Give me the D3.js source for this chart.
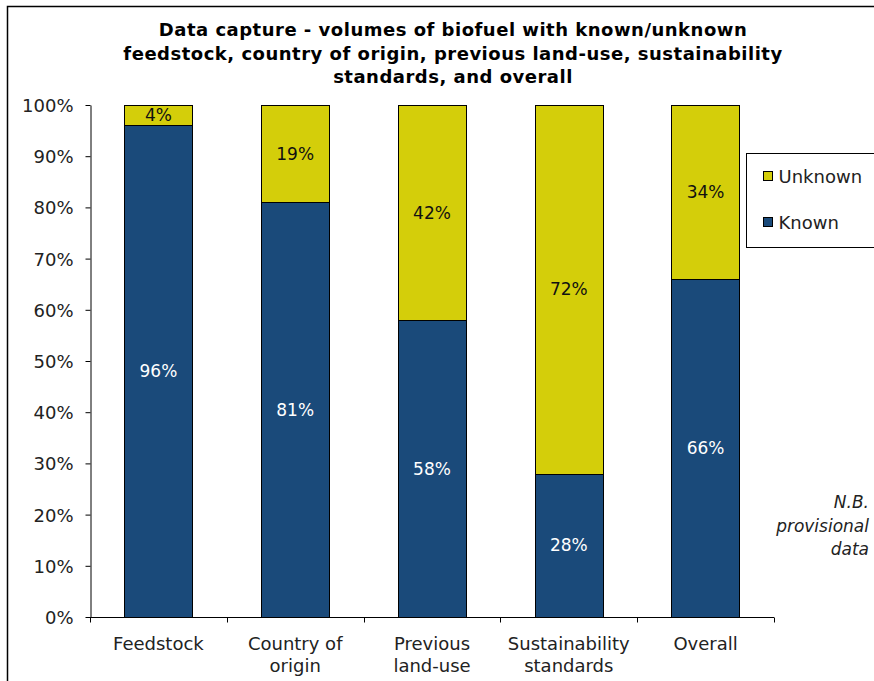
<!DOCTYPE html>
<html>
<head>
<meta charset="UTF-8">
<title>Data capture - biofuel</title>
<style>
  body { margin: 0; background: #fff; }
  svg text { font-family: "DejaVu Sans", Verdana, sans-serif; fill: #222; }
  .title { font-family: "DejaVu Sans", sans-serif; font-weight: bold; font-size: 18px; letter-spacing: 0.5px; fill: #000; }
  .axis path, .axis line { stroke: #000; stroke-width: 1px; }
  .bars rect { stroke: #000; stroke-width: 1px; }
</style>
</head>
<body>
<svg></svg>
<script src="https://d3js.org/d3.v7.min.js"></script>
<script>

var categories = ["Feedstock", "Country of\norigin", "Previous\nland-use", "Sustainability\nstandards", "Overall"];
var known   = [96, 81, 58, 28, 66];
var unknown = [4, 19, 42, 72, 34];
var yTicks  = [0, 10, 20, 30, 40, 50, 60, 70, 80, 90, 100];
var titleLines = [
  "Data capture - volumes of biofuel with known/unknown",
  "feedstock, country of origin, previous land-use, sustainability",
  "standards, and overall"
];
var legendItems = ["Unknown", "Known"];
var noteLines = ["N.B.", "provisional", "data"];

var colors = { Known: "#1a4a7a", Unknown: "#d4ce0a" };

var W = 874, H = 681;
var margin = { top: 105, right: 100, bottom: 64, left: 90 };

var svg = d3.select("svg").attr("width", W).attr("height", H);

// frame (only top and left edges are visible in the picture)
svg.append("path")
  .attr("d", "M7.5," + H + "V6.5H" + W)
  .attr("fill", "none").attr("stroke", "#000").attr("stroke-width", 1.5);

// title
svg.append("g").selectAll("text")
  .data(titleLines)
  .enter().append("text")
  .attr("class", "title")
  .attr("x", 453)
  .attr("y", function (d, i) { return 36 + i * 23.5; })
  .attr("text-anchor", "middle")
  .text(function (d) { return d; });

var x = d3.scaleBand()
  .domain(categories)
  .range([margin.left, W - margin.right])
  .paddingInner(0.5)
  .paddingOuter(0.25);

var y = d3.scaleLinear()
  .domain([0, 100])
  .range([H - margin.bottom, margin.top]);

var rows = categories.map(function (c, i) {
  return { cat: c, known: known[i], unknown: unknown[i] };
});

var stack = d3.stack().keys(["known", "unknown"]);
var series = stack(rows);

var bars = svg.append("g").attr("class", "bars");
series.forEach(function (s) {
  var key = s.key === "known" ? "Known" : "Unknown";
  var g = bars.append("g");
  g.selectAll("rect")
    .data(s)
    .enter().append("rect")
    .attr("x", function (d) { return Math.round(x(d.data.cat)) + 0.5; })
    .attr("width", Math.round(x.bandwidth()))
    .attr("y", function (d) { return Math.round(y(d[1])) + 0.5; })
    .attr("height", function (d) { return Math.round(y(d[0])) - Math.round(y(d[1])); })
    .attr("fill", colors[key]);
  g.selectAll("text")
    .data(s)
    .enter().append("text")
    .attr("x", function (d) { return x(d.data.cat) + x.bandwidth() / 2; })
    .attr("y", function (d) { return (y(d[0]) + y(d[1])) / 2 + 6; })
    .attr("text-anchor", "middle")
    .style("font-size", "17px")
    .style("fill", key === "Known" ? "#fff" : "#111")
    .text(function (d) { return (d[1] - d[0]) + "%"; });
});

// y axis
var yAxis = svg.append("g")
  .attr("class", "axis")
  .attr("transform", "translate(" + (margin.left + 0.5) + ",0)")
  .call(d3.axisLeft(y).tickValues(yTicks).tickSize(5).tickSizeOuter(0)
    .tickFormat(function (d) { return d + "%"; }));
yAxis.selectAll("text").style("font-size", "18px").attr("x", -17).attr("dy", "0.36em");

// x axis with ticks between categories
var xAxisG = svg.append("g")
  .attr("class", "axis")
  .attr("transform", "translate(0," + (y(0) + 0.5) + ")");
xAxisG.append("line")
  .attr("x1", margin.left).attr("x2", W - margin.right);
var step = x.step();
var bounds = d3.range(categories.length + 1).map(function (i) {
  return margin.left + i * step;
});
xAxisG.selectAll("line.tk")
  .data(bounds)
  .enter().append("line")
  .attr("class", "tk")
  .attr("x1", function (d) { return Math.round(d) + 0.5; })
  .attr("x2", function (d) { return Math.round(d) + 0.5; })
  .attr("y1", 0).attr("y2", 5);

xAxisG.selectAll("text")
  .data(categories)
  .enter().append("text")
  .attr("text-anchor", "middle")
  .style("font-size", "18px")
  .attr("x", function (d) { return x(d) + x.bandwidth() / 2; })
  .each(function (d) {
    var t = d3.select(this);
    d.split("\n").forEach(function (line, i) {
      t.append("tspan")
        .attr("x", x(d) + x.bandwidth() / 2)
        .attr("y", 32 + i * 22)
        .text(line);
    });
  });

// legend
var legend = svg.append("g").attr("transform", "translate(746.5,153.5)");
legend.append("rect")
  .attr("width", 140).attr("height", 94)
  .attr("fill", "#fff").attr("stroke", "#000").attr("stroke-width", 1);
legendItems.forEach(function (name, i) {
  legend.append("rect")
    .attr("x", 17).attr("y", 18 + i * 46)
    .attr("width", 9).attr("height", 9)
    .attr("fill", colors[name]).attr("stroke", "#000");
  legend.append("text")
    .attr("x", 32).attr("y", 29 + i * 46)
    .style("font-size", "18px")
    .text(name);
});

// note
svg.append("g").selectAll("text")
  .data(noteLines)
  .enter().append("text")
  .attr("x", 869)
  .attr("y", function (d, i) { return 508 + i * 23.5; })
  .attr("text-anchor", "end")
  .style("font-size", "17px")
  .style("font-style", "italic")
  .text(function (d) { return d; });

</script>
</body>
</html>
